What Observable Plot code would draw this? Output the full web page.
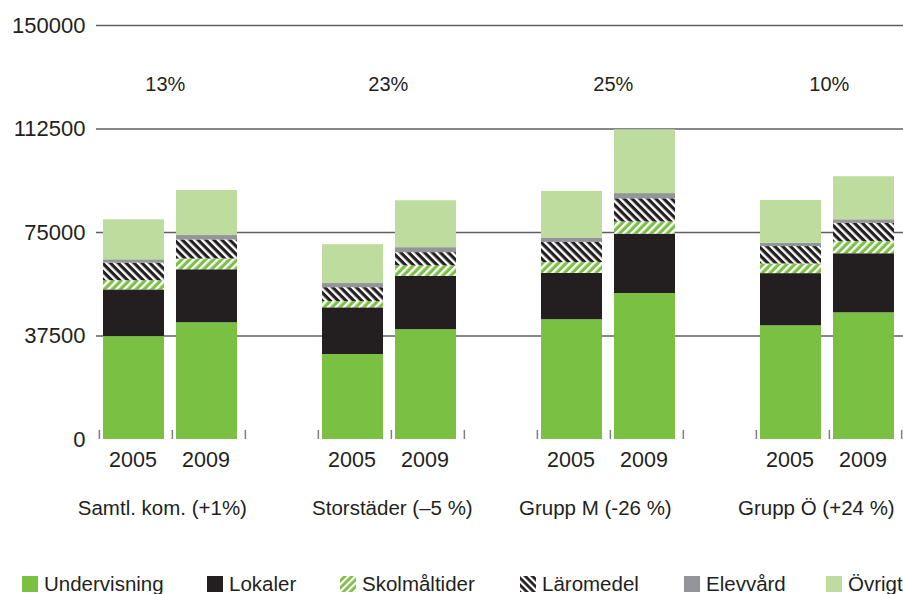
<!DOCTYPE html>
<html>
<head>
<meta charset="utf-8">
<script src="https://cdn.jsdelivr.net/npm/d3@7"></script>
<script src="https://cdn.jsdelivr.net/npm/@observablehq/plot@0.6"></script>
<style>
  html, body { margin: 0; padding: 0; background: #fff; }
  body { width: 903px; font-family: "Liberation Sans", Arial, sans-serif; color: #231f20; }
  #chart svg { display: block; }
  #legend { position: relative; height: 28px; }
  .item { position: absolute; top: 9px; display: flex; align-items: center; font-size: 20.5px; line-height: 18px; }
  .item svg { margin-right: 6px; display: block; }
</style>
</head>
<body>
<div id="chart"></div>
<div id="legend"></div>
<script>
// ---- data ----
const groups = ["Samtl. kom. (+1%)", "Storstäder (–5 %)", "Grupp M (-26 %)", "Grupp Ö (+24 %)"];
const years = ["2005", "2009"];
const changes = ["13%", "23%", "25%", "10%"];
const categories = ["Undervisning", "Lokaler", "Skolmåltider", "Läromedel", "Elevvård", "Övrigt"];
// values in order: group1 2005, group1 2009, group2 2005, group2 2009, ...
const undervisning = [37300, 42300, 30800, 39800, 43400, 52900, 41200, 45900];
const lokaler      = [16900, 19200, 16900, 19300, 16800, 21500, 18900, 21400];
const skolmaltider = [3300, 3900, 2300, 3800, 3900, 4400, 3500, 4400];
const laromedel    = [6400, 6900, 5000, 4800, 7300, 8400, 6300, 6600];
const elevvard     = [1200, 1600, 1500, 1800, 1600, 1900, 1200, 1300];
const ovrigt       = [14500, 16300, 14100, 17000, 16900, 23100, 15500, 15600];
const yTicks = [0, 37500, 75000, 112500, 150000];

const seriesValues = [undervisning, lokaler, skolmaltider, laromedel, elevvard, ovrigt];
const colors = ["#7ac143", "#231f20", "url(#pat-skol)", "url(#pat-laro)", "#939598", "#bddc9d"];

// slots: two bars per group, an empty slot between groups
const slots = [];
groups.forEach((g, gi) => {
  years.forEach(y => slots.push(`${gi}-${y}`));
  if (gi < groups.length - 1) slots.push(`gap${gi}`);
});

const rows = [];
groups.forEach((g, gi) => {
  years.forEach((y, yi) => {
    categories.forEach((c, ci) => {
      rows.push({slot: `${gi}-${y}`, group: g, year: y, cat: c, value: seriesValues[ci][gi * 2 + yi]});
    });
  });
});
const yearRows = [];
groups.forEach((g, gi) => years.forEach(y => yearRows.push({slot: `${gi}-${y}`, year: y})));
const groupRows = groups.map((g, gi) => ({slot: `${gi}-2009`, label: g, change: changes[gi]}));

// ---- layout ----
const W = 903, H = 566, ML = 97, MR = 0, MT = 25, MB = 127;
const step = (W - ML - MR) / slots.length;
const groupLabelShift = [-10, 1, -15, -13];
const changeLabelShift = [-7, -3, 3, 0];
const textColor = "#231f20";

const marks = [
  Plot.ruleY(yTicks.filter(d => d > 0), {y: d => d, stroke: "#5f6062", strokeWidth: 1.4, insetLeft: -1}),
  Plot.axisY({ticks: yTicks, tickSize: 0, tickPadding: 12, tickFormat: d => String(d), label: null,
              fontSize: 22, fill: textColor}),
  Plot.barY(rows, {x: "slot", y: "value", fill: "cat", insetLeft: 4, insetRight: 8}),
  Plot.ruleX(slots, {x: d => d, y1: 0, y2: 3300, dx: -step / 2, stroke: "#7f7f7f", strokeWidth: 1.5}),
  Plot.ruleX([slots[slots.length - 1]], {x: d => d, y1: 0, y2: 3300, dx: step / 2 - 1, stroke: "#7f7f7f", strokeWidth: 1.5}),
  Plot.text(yearRows, {x: "slot", text: "year", frameAnchor: "bottom", dy: 27, dx: -3, fontSize: 21.5, fill: textColor})
];
groupRows.forEach((r, i) => {
  marks.push(Plot.text([r], {x: "slot", text: "label", frameAnchor: "bottom", dy: 75,
    dx: -step / 2 + groupLabelShift[i], fontSize: 20.5, fill: textColor}));
  marks.push(Plot.text([r], {x: "slot", text: "change", frameAnchor: "top", dy: 51,
    dx: -step / 2 + changeLabelShift[i], fontSize: 20, fill: textColor}));
});

const chart = Plot.plot({
  width: W, height: H,
  marginLeft: ML, marginRight: MR, marginTop: MT, marginBottom: MB,
  style: {fontFamily: "'Liberation Sans', Arial, sans-serif", fontSize: "20px", color: textColor, background: "#fff"},
  x: {domain: slots, type: "band", padding: 0, axis: null},
  y: {domain: [0, 150000], axis: null},
  color: {domain: categories, range: colors, type: "ordinal"},
  marks
});

// patterns
function addPatterns(svgSel) {
  const defs = svgSel.insert("defs", ":first-child");
  const mk = (id, bg, angle) => {
    const p = defs.append("pattern").attr("id", id).attr("patternUnits", "userSpaceOnUse")
      .attr("width", 5.6).attr("height", 5.6).attr("patternTransform", `rotate(${angle})`);
    p.append("rect").attr("width", 5.6).attr("height", 5.6).attr("fill", bg);
    p.append("rect").attr("width", 2.4).attr("height", 5.6).attr("fill", "#fff");
  };
  mk("pat-skol", "#7ac143", 45);
  mk("pat-laro", "#231f20", -45);
}
addPatterns(d3.select(chart));
document.getElementById("chart").appendChild(chart);

// legend
const legendLefts = [22, 207, 340, 520, 684, 826];
const legend = d3.select("#legend");
categories.forEach((c, i) => {
  const item = legend.append("div").attr("class", "item").style("left", legendLefts[i] + "px");
  const s = item.append("svg").attr("width", 16).attr("height", 16);
  if (i === 2 || i === 3) {
    const id = "lg" + i;
    const p = s.append("defs").append("pattern").attr("id", id).attr("patternUnits", "userSpaceOnUse")
      .attr("width", 5).attr("height", 5).attr("patternTransform", `rotate(${i === 2 ? 45 : -45})`);
    p.append("rect").attr("width", 5).attr("height", 5).attr("fill", i === 2 ? "#7ac143" : "#231f20");
    p.append("rect").attr("width", 2.2).attr("height", 5).attr("fill", "#fff");
    s.append("rect").attr("width", 16).attr("height", 16).attr("fill", `url(#${id})`);
  } else {
    s.append("rect").attr("width", 16).attr("height", 16).attr("fill", colors[i]);
  }
  item.append("span").text(c);
});
</script>
</body>
</html>
